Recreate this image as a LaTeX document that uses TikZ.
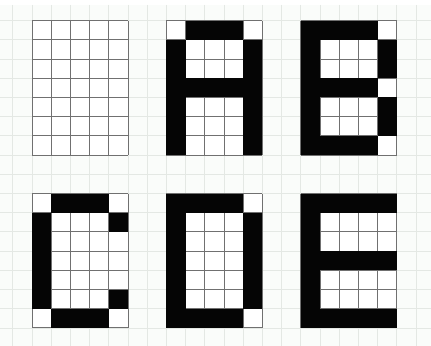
\documentclass[tikz,border=0pt]{standalone}
\usepackage{xcolor}
\usepackage{tikz}
\usetikzlibrary{positioning, calc}

\definecolor{paper}{HTML}{FAFCFA}
\definecolor{paperline}{HTML}{E4E8E4}
\definecolor{cellline}{HTML}{707070}
\definecolor{pixel}{HTML}{050505}

\begin{document}
\begin{tikzpicture}[x=0.5cm, y=-0.5cm,
    backgrid/.style={draw=paperline, line width=0.6pt},
    cellgrid/.style={draw=cellline, line width=0.7pt},
    pixon/.style={fill=pixel}]
  % Page bounds
  \useasboundingbox (-1.667,-1.078) rectangle (20.78,16.94);
  \fill[white] (-1.667,-1.078) rectangle (20.78,16.94);
  
  % Background paper with light grid
  \fill[paper] (-1.667,-0.82) rectangle (20.78,16.94);
  \foreach \x in {-1,...,20}
    \draw[backgrid] (\x,-0.82) -- (\x,16.94);
  \foreach \y in {0,...,16}
    \draw[backgrid] (-1.667,\y) -- (20.78,\y);
  
  % Six empty 5x7 pixel grids
  \foreach \gx/\gy in {0/0, 7/0, 14/0, 0/9, 7/9, 14/9} {
    \begin{scope}[shift={(\gx,\gy)}]
      \fill[white] (0,0) rectangle (5,7);
      \foreach \i in {0,...,5}
        \draw[cellgrid] (\i,0) -- (\i,7);
      \foreach \j in {0,...,7}
        \draw[cellgrid] (0,\j) -- (5,\j);
    \end{scope}
  }
  
  % Letter A
  \begin{scope}[shift={(7,0)}]
    \fill[pixon] (1,0) rectangle (4,1);
    \fill[pixon] (0,1) rectangle (1,7);
    \fill[pixon] (4,1) rectangle (5,7);
    \fill[pixon] (1,3) rectangle (4,4);
  \end{scope}
  
  % Letter B
  \begin{scope}[shift={(14,0)}]
    \fill[pixon] (0,0) rectangle (1,7);
    \fill[pixon] (1,0) rectangle (4,1);
    \fill[pixon] (1,3) rectangle (4,4);
    \fill[pixon] (1,6) rectangle (4,7);
    \fill[pixon] (4,1) rectangle (5,3);
    \fill[pixon] (4,4) rectangle (5,6);
  \end{scope}
  
  % Letter C
  \begin{scope}[shift={(0,9)}]
    \fill[pixon] (1,0) rectangle (4,1);
    \fill[pixon] (0,1) rectangle (1,6);
    \fill[pixon] (1,6) rectangle (4,7);
    \fill[pixon] (4,1) rectangle (5,2);
    \fill[pixon] (4,5) rectangle (5,6);
  \end{scope}
  
  % Letter D
  \begin{scope}[shift={(7,9)}]
    \fill[pixon] (0,0) rectangle (4,1);
    \fill[pixon] (0,1) rectangle (1,7);
    \fill[pixon] (1,6) rectangle (4,7);
    \fill[pixon] (4,1) rectangle (5,6);
  \end{scope}
  
  % Letter E
  \begin{scope}[shift={(14,9)}]
    \fill[pixon] (0,0) rectangle (5,1);
    \fill[pixon] (0,1) rectangle (1,7);
    \fill[pixon] (1,3) rectangle (5,4);
    \fill[pixon] (1,6) rectangle (5,7);
  \end{scope}
\end{tikzpicture}
\end{document}
